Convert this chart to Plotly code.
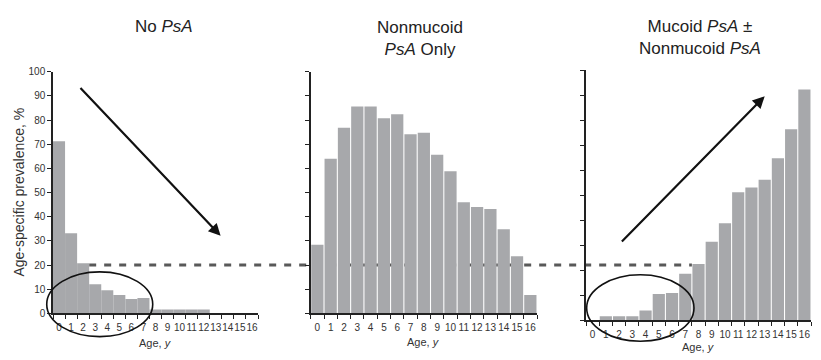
import plotly.graph_objects as go

# ---------------- data ----------------
ages = list(range(17))
age_labels = [str(a) for a in ages]
no_psa = [71.2, 33.2, 20.8, 12.1, 9.6, 7.6, 6.0, 6.4, 1.6, 1.6, 1.6, 1.6, 1.6, 0, 0, 0, 0]
nonmucoid_only = [28.4, 64.0, 76.8, 85.6, 85.6, 80.8, 82.4, 74.1, 74.8, 65.6, 58.8, 46.0, 44.0, 43.2, 34.8, 23.6, 7.6]
mucoid = [0, 1.7, 1.7, 1.7, 4.0, 10.6, 11.0, 18.7, 22.6, 31.5, 38.9, 51.3, 53.2, 56.3, 64.9, 76.5, 92.4]
y_ticks = list(range(0, 101, 10))
threshold = 20

panel_titles = ["No <i>PsA</i>", "Nonmucoid<br><i>PsA</i> Only", "Mucoid <i>PsA</i> ±<br>Nonmucoid <i>PsA</i>"]
y_title = "Age-specific prevalence, %"
x_title = "Age, <i>y</i>"

# arrows (tail x, tail y, tip x, tip y) in data units of their panel
arrow1 = (1.66, 93.9, 13.4, 32.1)
arrow2 = (2.1, 31.0, 13.0, 89.7)
# ellipses (x0, x1, y0, y1) in data units of their panel
ellipse1 = (-1.02, 7.77, -9.6, 17.2)
ellipse3 = (-0.45, 7.66, -8.3, 18.3)

# ---------------- layout geometry (pixels) ----------------
W, H = 821, 360
px_x = [(53, 258), (310.7, 537), (586, 811)]
px_y = [(318, 68), (318, 68), (325.3, 66.7)]  # (y of 0, y of 100)

xdom = [(a / W, b / W) for a, b in px_x]
ydom = [((H - a) / H, (H - b) / H) for a, b in px_y]

BAR = "#a7a8ab"
AX = "#222222"
FONT = "Liberation Sans, Arial, sans-serif"


def to_paper(panel, x, y):
    (x0, x1), (y0, y1) = xdom[panel], ydom[panel]
    px = x0 + (x + 0.5) / 17.0 * (x1 - x0)
    py = y0 + y / 100.0 * (y1 - y0)
    return px, py


fig = go.Figure()
series = [no_psa, nonmucoid_only, mucoid]
widths = [1.0, 0.92, 0.92]
for i, vals in enumerate(series):
    sfx = "" if i == 0 else str(i + 1)
    fig.add_trace(go.Bar(x=ages, y=vals, width=widths[i], marker=dict(color=BAR, line=dict(width=0)),
                         xaxis="x" + sfx, yaxis="y" + sfx, showlegend=False))

layout = dict(
    width=W, height=H, autosize=False,
    margin=dict(l=0, r=0, t=0, b=0),
    paper_bgcolor="white", plot_bgcolor="rgba(0,0,0,0)",
    font=dict(family=FONT, color="#333333"),
    showlegend=False,
)
for i in range(3):
    sfx = "" if i == 0 else str(i + 1)
    layout["xaxis" + sfx] = dict(
        domain=list(xdom[i]), anchor="y" + sfx, range=[-0.5, 16.5],
        tickmode="array", tickvals=ages, ticktext=age_labels, tickangle=0,
        ticks="outside", ticklen=4, tickcolor="rgba(0,0,0,0)",
        showline=True, linecolor=AX, linewidth=1.5,
        minor=dict(tickmode="array", tickvals=[a - 0.5 for a in ages] + [16.5], ticks="outside",
                   ticklen=4, tickwidth=1.2, tickcolor=AX, showgrid=False),
        showgrid=False, zeroline=False, fixedrange=True,
        tickfont=dict(size=10, color="#333333"),
    )
    layout["yaxis" + sfx] = dict(
        domain=list(ydom[i]), anchor="x" + sfx, range=[0, 100],
        tickmode="array", tickvals=y_ticks, ticks="outside", ticklen=4, tickwidth=1.2, tickcolor=AX,
        showline=True, linecolor=AX, linewidth=1.5, showgrid=False, zeroline=False,
        showticklabels=(i == 0), tickfont=dict(size=10, color="#333333"), fixedrange=True,
    )
fig.update_layout(**layout)

# dashed threshold line
xs, ys = to_paper(0, 2.5, threshold)
xe, _ = to_paper(2, 7.5, threshold)
fig.add_shape(type="line", xref="paper", yref="paper", x0=xs, x1=xe, y0=ys, y1=ys,
              line=dict(color="#595959", width=3, dash="7px,8px"), layer="below")

# ellipses
for panel, (ex0, ex1, ey0, ey1) in [(0, ellipse1), (2, ellipse3)]:
    a0, b0 = to_paper(panel, ex0, ey0)
    a1, b1 = to_paper(panel, ex1, ey1)
    fig.add_shape(type="circle", xref="paper", yref="paper", x0=a0, x1=a1, y0=b0, y1=b1,
                  line=dict(color="#111111", width=1.6), layer="above")

# arrows
for sfx, (tx, ty, hx, hy) in [("", arrow1), ("3", arrow2)]:
    fig.add_annotation(x=hx, y=hy, ax=tx, ay=ty, xref="x" + sfx, yref="y" + sfx,
                       axref="x" + sfx, ayref="y" + sfx, text="", showarrow=True,
                       arrowhead=2, arrowsize=1.1, arrowwidth=2.2, arrowcolor="#111111", standoff=0)

# panel titles
title_px = [(164, 21), (420, 34), (700, 33)]
for (cx, cy), t in zip(title_px, panel_titles):
    fig.add_annotation(x=cx / W, y=(H - cy) / H, xref="paper", yref="paper", text=t, showarrow=False,
                       font=dict(size=17, color="#222222", family=FONT), xanchor="center", yanchor="middle")

# x axis titles
xt_py = [349, 348, 353]
for i in range(3):
    sfx = "" if i == 0 else str(i + 1)
    fig.add_annotation(x=0.5, xref="x" + sfx + " domain", y=(H - xt_py[i]) / H, yref="paper",
                       text=x_title, showarrow=False, font=dict(size=11, color="#333333", family=FONT),
                       xanchor="center", yanchor="middle")

# y axis title
fig.add_annotation(x=19 / W, y=(H - 193) / H, xref="paper", yref="paper", text=y_title, textangle=-90,
                   showarrow=False, font=dict(size=14, color="#333333", family=FONT),
                   xanchor="center", yanchor="middle")

fig.write_html("out.html", config={"displayModeBar": False},
               post_script="document.body.style.margin='0px';document.body.style.overflow='hidden';")
